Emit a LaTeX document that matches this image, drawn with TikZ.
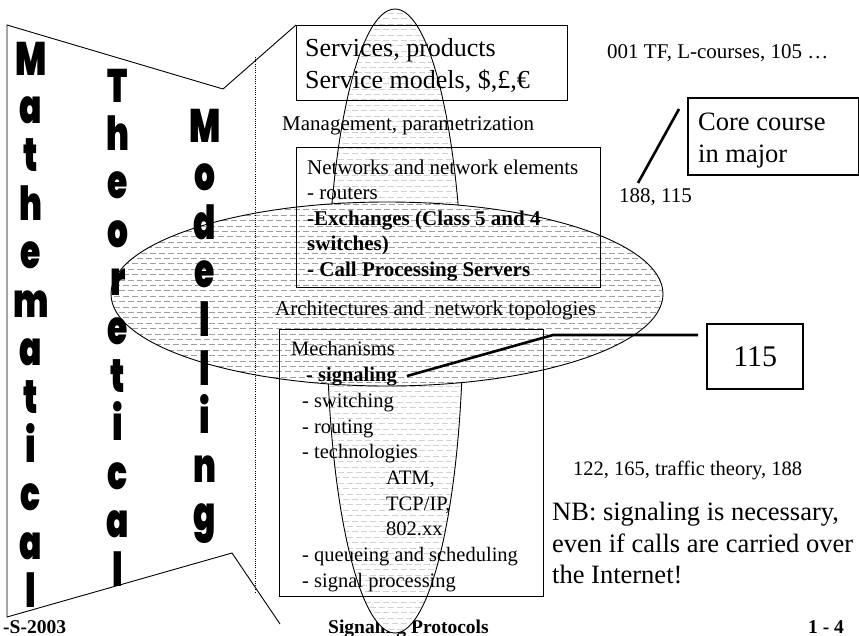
\documentclass[tikz,border=0pt]{standalone}
\usepackage{fontspec}
\usepackage{graphicx}
\setmainfont{Liberation Serif}
% heavy sans for the vertical words: a black weight if one is installed,
% otherwise a bold weight thickened by overlaid copies
\newif\ifsolidheavy
\IfFontExistsTF{Poppins Black}
  {\newfontfamily\heavyfont{Poppins Black}\solidheavytrue\def\bigscale{0.7}\def\bigsize{47}}
  {\IfFontExistsTF{Lato Black}
    {\newfontfamily\heavyfont{Lato Black}\solidheavytrue\def\bigscale{0.78}\def\bigsize{46}}
    {\IfFontExistsTF{Fira Sans Heavy}
      {\newfontfamily\heavyfont{Fira Sans Heavy}\solidheavytrue\def\bigscale{0.78}\def\bigsize{46}}
      {\newfontfamily\heavyfont{DejaVu Sans Bold}\solidheavyfalse\def\bigscale{0.76}\def\bigsize{45}}}}
\newcommand\szmain{\fontsize{21}{25.6}\selectfont}
\newcommand\szlist{\fontsize{20.5}{25.6}\selectfont}
\newcommand\szbig{\fontsize{26.5}{31.5}\selectfont}
\newcommand\szfoot{\bfseries\fontsize{19.5}{22}\selectfont}
% one letter of a vertical word: #1 name, #2 x, #3 baseline y, #4 letter
\newcommand\bigglyph[4]{%
  \ifsolidheavy
    \node[bigletter] (#1) at (#2,#3) {\scalebox{\bigscale}[1]{#4}};
  \else
    \foreach \dx/\dy [count=\j] in {-1.5/0,0/0,1.5/0,-1.5/1.2,0/1.2,1.5/1.2}
      \node[bigletter] (#1-\j) at ([xshift=\dx pt, yshift=\dy pt]#2,#3) {\scalebox{\bigscale}[1]{#4}};
  \fi}
\begin{document}
\begin{tikzpicture}[x=1pt,y=-1pt,
  box/.style={draw, line width=1pt, inner sep=0pt, anchor=north west},
  heavybox/.style={draw, line width=2.4pt, inner sep=0pt, anchor=north west},
  txt/.style={anchor=base west, inner sep=0pt},
  bigletter/.style={anchor=base, inner sep=0pt, font=\heavyfont\fontsize{\bigsize}{\bigsize}\selectfont},
  link/.style={line width=2.6pt},
  outline/.style={line width=0.9pt},
  darkdash/.style={line width=1pt, gray!75, dash pattern=on 6pt off 3pt},
  lightdash/.style={line width=1pt, gray!35, dash pattern=on 6pt off 3pt}]
\useasboundingbox (0,0) rectangle (859,635);

% footer line (partly hidden under the vertical ellipse)
\node[txt, font=\szfoot] (footl) at (3,633) {-S-2003};
\node[txt, font=\szfoot] (footc) at (328,633) {Signaling Protocols};
\node[txt, font=\szfoot] (footr) at (808,633) {1 - 4};

% vertical ellipse with light hatching
\fill[white] (395,321) ellipse [x radius=68pt, y radius=312pt];
\begin{scope}
  \clip (395,321) ellipse [x radius=68pt, y radius=312pt];
  \foreach \k in {0,...,117} {
    \pgfmathsetmacro\ph{mod(\k,2)*4.5}
    \draw[lightdash, dash phase=\ph pt] (320,8+\k*5.4) -- (470,8+\k*5.4);
  }
\end{scope}
\draw[outline] (395,321) ellipse [x radius=68pt, y radius=312pt];

% horizontal ellipse with dark hatching
\fill[white] (387,294) ellipse [x radius=276pt, y radius=92pt];
\begin{scope}
  \clip (387,294) ellipse [x radius=276pt, y radius=92pt];
  \foreach \k in {0,...,36} {
    \pgfmathsetmacro\ph{mod(\k,2)*4.5}
    \draw[darkdash, dash phase=\ph pt] (105,199+\k*5.4) -- (670,199+\k*5.4);
  }
\end{scope}
\draw[outline] (387,294) ellipse [x radius=276pt, y radius=92pt];

% boxes
\node[box, minimum width=271pt, minimum height=75pt] (svc) at (296,25) {};
\node[box, minimum width=304pt, minimum height=140pt] (net) at (296,147) {};
\node[box, minimum width=264pt, minimum height=267pt] (mech) at (279,329) {};
\node[heavybox, minimum width=171pt, minimum height=77pt] (core) at (687,97) {};
\node[heavybox, minimum width=96pt, minimum height=65pt] (num) at (706,323) {};

% outline of the modelling frame
\draw[outline] (svc.north west) -- (223,89) -- (7,25) -- (7,617) -- (232,553) -- (280,624);
\draw[line width=0.9pt, dash pattern=on 1pt off 1.2pt] (255,57) -- (255,593);

% service layer
\node[txt, font=\fontsize{26}{31}\selectfont] (svc1) at (305,56) {Services, products};
\node[txt, font=\fontsize{26}{31}\selectfont] (svc2) at (305,88) {Service models, \$,£,€};
\node[txt, font=\szmain] (crs1) at (607,58) {001 TF, L-courses, 105 …};
\node[txt, font=\szmain] (mgmt) at (282,130) {Management, parametrization};

% core course note
\node[txt, font=\szbig] (core1) at (698,130) {Core course};
\node[txt, font=\szbig] (core2) at (698,162) {in major};
\node[txt, font=\szmain] (crs2) at (619,202) {188, 115};

% network layer
\node[txt, font=\szmain] (n1) at (307,174) {Networks and network elements};
\node[txt, font=\szmain] (n2) at (307,199.6) {- routers};
\node[txt, font=\szmain\bfseries] (n3) at (307,225.2) {-Exchanges (Class 5 and 4};
\node[txt, font=\szmain\bfseries] (n4) at (307,250.8) {switches)};
\node[txt, font=\szmain\bfseries] (n5) at (307,276.4) {- Call Processing Servers};
\node[txt, font=\szmain] (arch) at (275,315) {Architectures and\ \ network topologies};

% mechanisms
\node[txt, font=\szlist] (m0) at (291,355) {Mechanisms};
\node[txt, font=\szlist\bfseries] (sig) at (306,381) {- signaling};
\node[txt, font=\szlist] (m2) at (302,407) {- switching};
\node[txt, font=\szlist] (m3) at (302,433) {- routing};
\node[txt, font=\szlist] (m4) at (302,458) {- technologies};
\node[txt, font=\szlist] (m5) at (386,484) {ATM,};
\node[txt, font=\szlist] (m6) at (386,510) {TCP/IP,};
\node[txt, font=\szlist] (m7) at (386,535) {802.xx};
\node[txt, font=\szlist] (m8) at (302,561) {- queueing and scheduling};
\node[txt, font=\szlist] (m9) at (302,587) {- signal processing};

% right-hand notes
\node[font=\fontsize{30}{34}\selectfont, inner sep=0pt] (num1) at (num.center) {115};
\node[txt, font=\fontsize{20.5}{24}\selectfont] (crs3) at (573,475) {122, 165, traffic theory, 188};
\node[txt, font=\szbig] (nb1) at (552,520) {NB: signaling is necessary,};
\node[txt, font=\szbig] (nb2) at (552,552) {even if calls are carried over};
\node[txt, font=\szbig] (nb3) at (552,583) {the Internet!};

% vertical words, one heavy letter per line
\foreach \ch [count=\i] in {M,a,t,h,e,m,a,t,i,c,a,l}
  {\bigglyph{ma\i}{31}{75+48.4*\i-48.4}{\ch}}
\foreach \ch [count=\i] in {T,h,e,o,r,e,t,i,c,a,l}
  {\bigglyph{th\i}{118}{102+48.4*\i-48.4}{\ch}}
\foreach \ch [count=\i] in {M,o,d,e,l,l,i,n,g}
  {\bigglyph{mo\i}{205}{142+48.6*\i-48.6}{\ch}}

% connectors
\coordinate (coreend) at (679,109);
\coordinate (crsend) at (638,183);
\draw[link] (crsend) -- (coreend);
\coordinate (numend) at (698,335);
\coordinate (bend) at (553,335);
\coordinate (sigend) at (407,376);
\draw[link] (numend) -- (bend) -- (sigend);
\end{tikzpicture}
\end{document}
